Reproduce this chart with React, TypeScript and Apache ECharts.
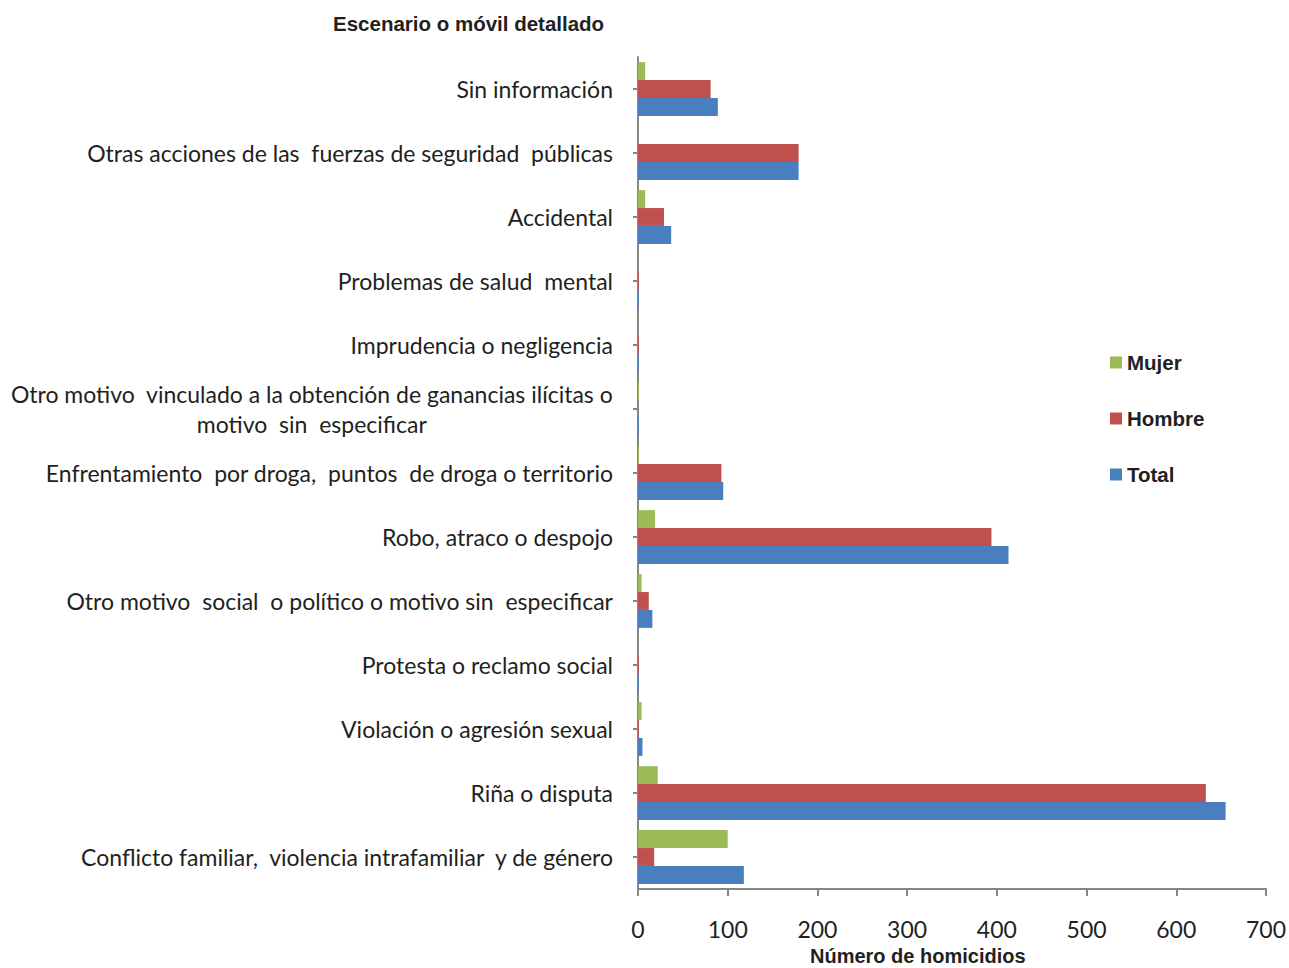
import React, { useEffect, useRef } from "react";
import * as echarts from "echarts";

const categories = [
  "Conflicto familiar,  violencia intrafamiliar  y de género",
  "Riña o disputa",
  "Violación o agresión sexual",
  "Protesta o reclamo social",
  "Otro motivo  social  o político o motivo sin  especificar",
  "Robo, atraco o despojo",
  "Enfrentamiento  por droga,  puntos  de droga o territorio",
  "Otro motivo  vinculado a la obtención de ganancias ilícitas o\nmotivo  sin  especificar",
  "Imprudencia o negligencia",
  "Problemas de salud  mental",
  "Accidental",
  "Otras acciones de las  fuerzas de seguridad  públicas",
  "Sin información",
];

const mujer = [100, 22, 4, 0, 4, 19, 1, 1, 0, 0, 8, 0, 8];
const hombre = [18, 633, 1, 1, 12, 394, 93, 0, 1, 1, 29, 179, 81];
const total = [118, 655, 5, 1, 16, 413, 95, 1, 1, 1, 37, 179, 89];

const seriesNames = ["Mujer", "Hombre", "Total"];
const xTicks = { min: 0, max: 700, interval: 100 };

const COLORS = ["#9BBB59", "#C0504D", "#4A7FBF"];
const LABEL_FONT = "Lato, 'Open Sans', sans-serif";
const BOLD_FONT = "'Liberation Sans Narrow', 'Liberation Sans', Arial, sans-serif";

export default function App() {
  const ref = useRef<HTMLDivElement>(null);

  useEffect(() => {
    if (!ref.current) return;
    const chart = echarts.init(ref.current, null, { renderer: "svg" });
    const option: any = {
      animation: false,
      backgroundColor: "#ffffff",
      title: {
        text: "Escenario o móvil detallado",
        left: 328,
        top: 8,
        textStyle: {
          fontFamily: BOLD_FONT,
          fontWeight: "bold",
          fontSize: 20.5,
          color: "#231F20",
        },
      },
      legend: {
        orient: "vertical",
        left: 1105,
        top: 347,
        itemWidth: 12,
        itemHeight: 12,
        itemGap: 35,
        itemStyle: { borderWidth: 0 },
        icon: "rect",
        data: seriesNames,
        textStyle: {
          fontFamily: BOLD_FONT,
          fontWeight: "bold",
          fontSize: 20.5,
          color: "#231F20",
        },
      },
      grid: { left: 638, right: 22, top: 57, bottom: 79, containLabel: false },
      xAxis: {
        type: "value",
        min: xTicks.min,
        max: xTicks.max,
        interval: xTicks.interval,
        splitLine: { show: false },
        axisLine: { show: true, lineStyle: { color: "#868686", width: 2 } },
        axisTick: { show: true, length: 7, lineStyle: { color: "#868686", width: 2 } },
        axisLabel: {
          fontFamily: LABEL_FONT,
          fontSize: 23,
          color: "#231F20",
          margin: 28,
        },
      },
      yAxis: {
        type: "category",
        data: categories,
        axisLine: { show: true, onZero: false, lineStyle: { color: "#868686", width: 2 } },
        axisTick: { show: true, alignWithLabel: true, length: 5, lineStyle: { color: "#868686", width: 2 } },
        axisLabel: {
          fontFamily: LABEL_FONT,
          fontSize: 23,
          color: "#231F20",
          margin: 25,
          interval: 0,
          lineHeight: 30,
          formatter: (v: string) => (v.indexOf("\n") >= 0 ? "{c|" + v.split("\n").join("}\n{c|") + "}" : v),
          rich: {
            c: {
              fontFamily: LABEL_FONT,
              fontSize: 23,
              color: "#231F20",
              align: "center",
              lineHeight: 30,
            },
          },
        },
      },
      graphic: [
        {
          type: "text",
          left: 810,
          top: 946,
          style: {
            text: "Número de homicidios",
            fontFamily: BOLD_FONT,
            fontWeight: "bold",
            fontSize: 20,
            fill: "#231F20",
          },
        },
      ],
      series: [
        { name: "Mujer", type: "bar", data: mujer, itemStyle: { color: COLORS[0] }, barGap: "0%", barCategoryGap: "16%" },
        { name: "Hombre", type: "bar", data: hombre, itemStyle: { color: COLORS[1] }, barGap: "0%", barCategoryGap: "16%" },
        { name: "Total", type: "bar", data: total, itemStyle: { color: COLORS[2] }, barGap: "0%", barCategoryGap: "16%" },
      ],
    };
    chart.setOption(option);
    return () => chart.dispose();
  }, []);

  return (
    <div
      ref={ref}
      style={{ position: "fixed", left: 0, top: 0, width: 1289, height: 968 }}
    />
  );
}
